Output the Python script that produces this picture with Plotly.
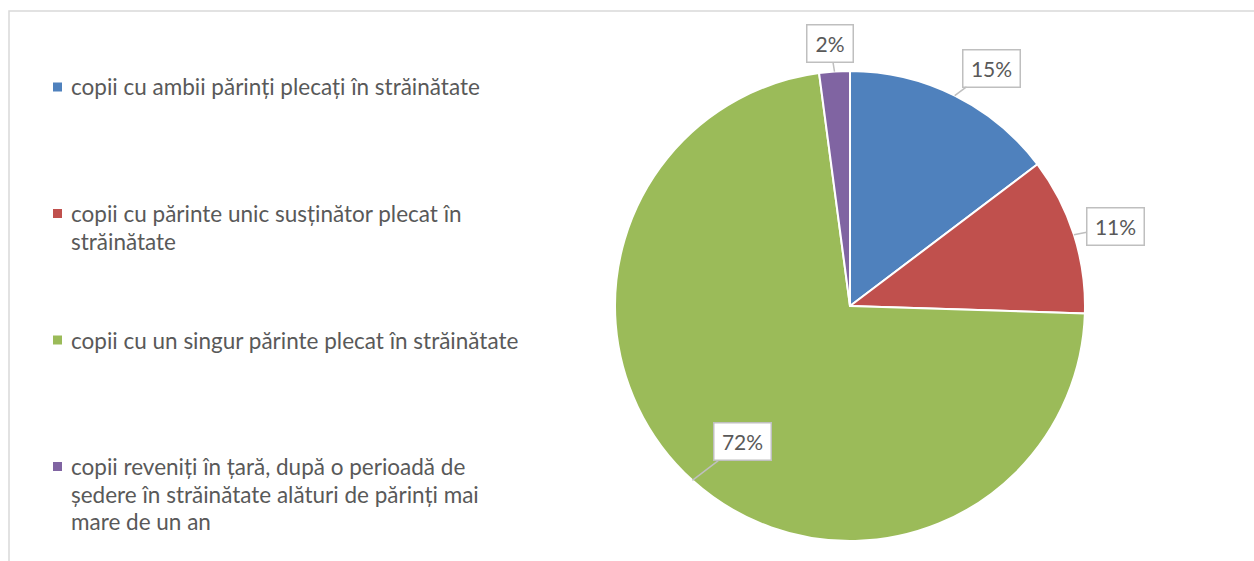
import math
import plotly.graph_objects as go

# ---- data ----
categories = [
    "copii cu ambii părinți plecați în străinătate",
    "copii cu părinte unic susținător plecat în străinătate",
    "copii cu un singur părinte plecat în străinătate",
    "copii reveniți în țară, după o perioadă de ședere în străinătate alături de părinți mai mare de un an",
]
values = [14.7, 10.8, 72.4, 2.1]
legend_lines = [
    ["copii cu ambii părinți plecați în străinătate"],
    ["copii cu părinte unic susținător plecat în", "străinătate"],
    ["copii cu un singur părinte plecat în străinătate"],
    ["copii reveniți în țară, după o perioadă de", "ședere în străinătate alături de părinți mai", "mare de un an"],
]
colors = ["#4F81BD", "#C0504D", "#9BBB59", "#8064A2"]

# ---- layout constants (pixels) ----
W, H = 1254, 561
CX, CY, R = 850, 306, 235
label_offsets = [(37, -27.5), (41.5, -8), (50.5, -38.5), (-4.5, -28)]
label_widths = [46, 46, 46, 35]
TEXT = "#595959"
FONT = "Lato"

def px(x):
    return x / W

def py(y):
    return 1 - y / H

fig = go.Figure(go.Pie(
    labels=categories,
    values=values,
    sort=False,
    direction="clockwise",
    rotation=0,
    marker=dict(colors=colors, line=dict(color="white", width=2)),
    textinfo="none",
    hoverinfo="label+percent",
    domain=dict(x=[px(CX - R), px(CX + R)], y=[py(CY + R), py(CY - R)]),
))

annotations = []
total = sum(values)
cum = 0
for i, v in enumerate(values):
    mid = (cum + v / 2) / total * 2 * math.pi
    cum += v
    tx = CX + R * math.sin(mid)
    ty = CY - R * math.cos(mid)
    ox, oy = label_offsets[i]
    annotations.append(dict(
        x=px(tx), y=py(ty), xref="paper", yref="paper",
        text=f"{round(v / total * 100)}%",
        showarrow=True, arrowhead=0, arrowwidth=1.5, arrowcolor="#BFBFBF",
        ax=ox, ay=oy, standoff=0,
        font=dict(family=FONT, size=21, color=TEXT),
        bgcolor="white", bordercolor="#BFBFBF", borderwidth=1.5, borderpad=5,
        width=label_widths[i], height=26,
    ))

shapes = [dict(type="rect", xref="paper", yref="paper",
               x0=px(9), x1=1.05, y0=-0.05, y1=py(11),
               line=dict(color="#D9D9D9", width=1.5), fillcolor="rgba(0,0,0,0)", layer="below")]

LEG_Y0, LEG_STEP, LINE_H = 87, 126.5, 27.5
for i, lines in enumerate(legend_lines):
    y0 = LEG_Y0 + i * LEG_STEP
    shapes.append(dict(type="rect", xref="paper", yref="paper",
                       x0=px(53), x1=px(62), y0=py(y0 + 4.5), y1=py(y0 - 4.5),
                       fillcolor=colors[i], line=dict(width=0)))
    for j, line in enumerate(lines):
        annotations.append(dict(
            x=px(69), y=py(y0 + j * LINE_H), xref="paper", yref="paper",
            xanchor="left", yanchor="middle", showarrow=False,
            text=line, font=dict(family=FONT, size=22.5, color=TEXT),
        ))

fig.update_layout(
    width=W, height=H,
    margin=dict(l=0, r=0, t=0, b=0),
    paper_bgcolor="white", plot_bgcolor="white",
    showlegend=False,
    annotations=annotations,
    shapes=shapes,
)

fig.write_html("out.html")
